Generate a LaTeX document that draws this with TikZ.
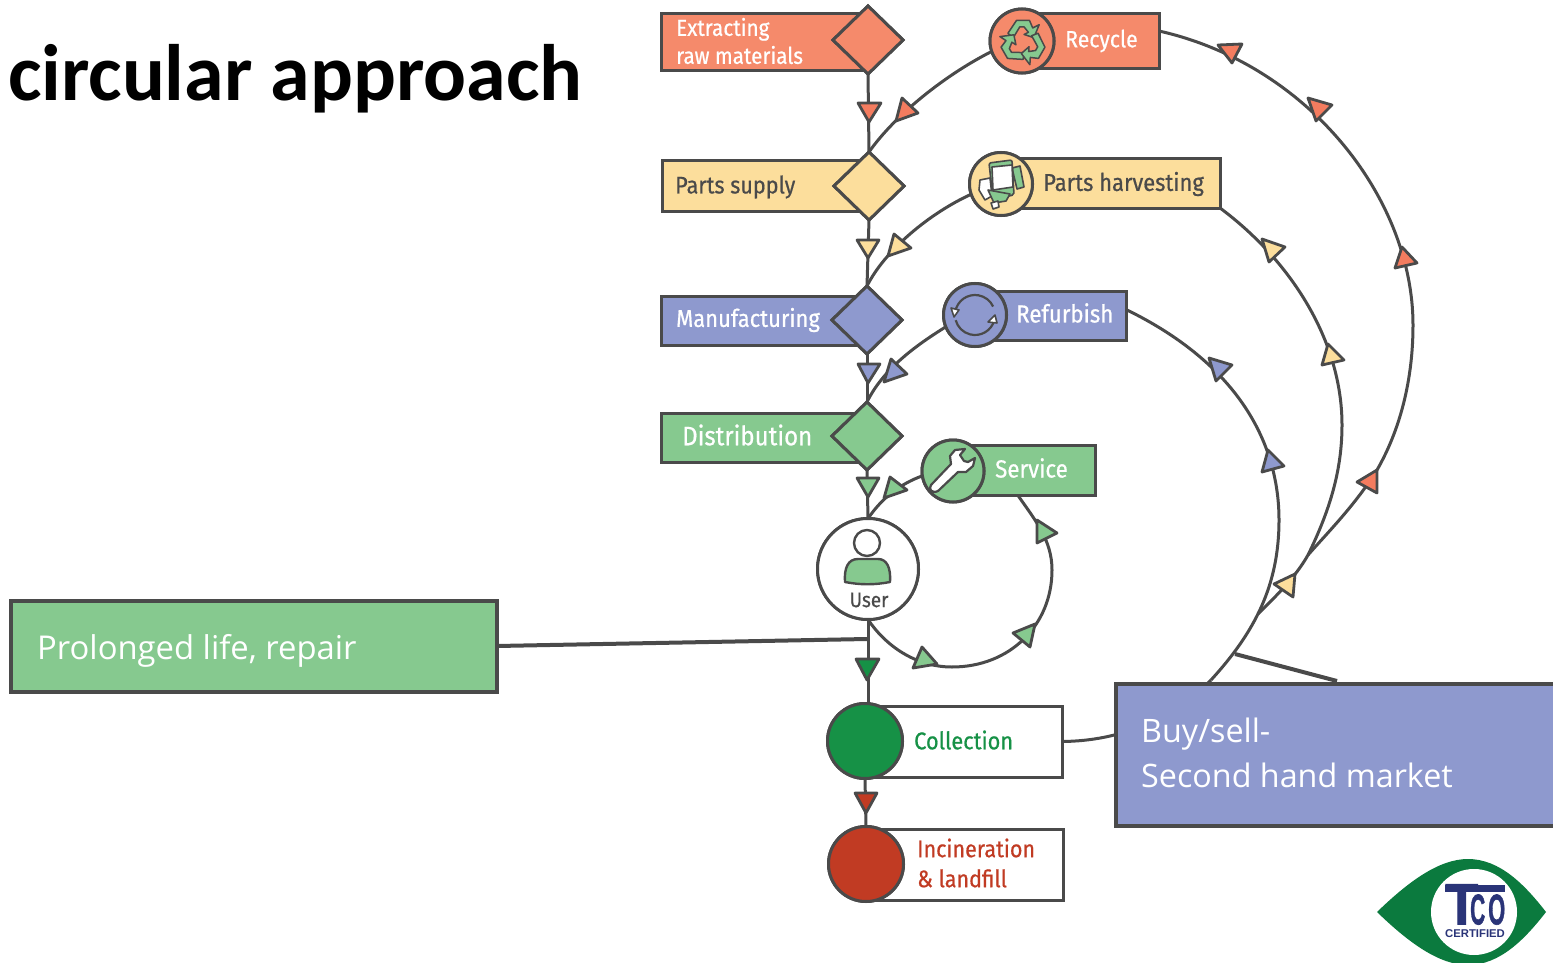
\documentclass[tikz,border=0pt]{standalone}
\usepackage{fontspec}
\usepackage{graphicx}
\usetikzlibrary{shapes.geometric}
\setmainfont{Open Sans}
\newfontfamily\dia[FakeStretch=0.9,FakeBold=0.6]{Fira Sans}
\newfontfamily\ttl{Carlito}
\newfontfamily\lib{Liberation Sans}
\newfontfamily\libb[FakeBold=1.5]{Liberation Sans Bold}
\definecolor{ln}{HTML}{4A4A4A}
\definecolor{cR}{HTML}{F58A6B}
\definecolor{cRt}{HTML}{F47C5F}
\definecolor{cY}{HTML}{FCDE9C}
\definecolor{cB}{HTML}{8E99CE}
\definecolor{cG}{HTML}{86C98F}
\definecolor{cD}{HTML}{169146}
\definecolor{cX}{HTML}{C13B23}
\definecolor{eye}{HTML}{0B7A3E}
\definecolor{navy}{HTML}{2A3478}
\tikzset{
  x=1pt,y=-1pt,
  wire/.style={draw=ln,line width=3pt},
  bx/.style={draw=ln,line width=3pt,rectangle,anchor=north west,outer sep=0pt,inner sep=0pt},
  dm/.style={draw=ln,line width=3pt,diamond,aspect=1,inner sep=0pt,outer sep=0pt,minimum width=70pt,minimum height=68pt},
  cc/.style={draw=ln,line width=3pt,circle,inner sep=0pt,outer sep=0pt},
  lbl/.style={inner sep=0pt,anchor=west,align=left},
  call/.style={draw=ln,line width=4pt,rectangle,anchor=north west,outer sep=0pt,inner sep=0pt},
  ctext/.style={inner sep=0pt,anchor=west,align=left,text=white},
  lead/.style={draw=ln,line width=4pt},
  ico/.style={draw=ln,line width=1.6pt,line join=round}
}
\newcommand{\tri}[4]{\draw[draw=ln,line width=2.8pt,line join=round,fill=#4] (#1) -- (#2) -- (#3) -- cycle;}
\newcommand{\fs}[2]{\dia\fontsize{#1}{#2}\selectfont}
\begin{document}
\begin{tikzpicture}
\useasboundingbox (0,0) rectangle (1553,963);
\clip (0,0) rectangle (1553,963);
\fill[white] (0,0) rectangle (1553,963);

% title
\node[inner sep=0pt,anchor=base west,font=\ttl\bfseries\fontsize{80}{82}\selectfont] (title) at (8,101) {circular approach};

% boxes
\node[bx,fill=cR,minimum width=207pt,minimum height=57pt] (exb) at (661,13.5) {};
\node[bx,fill=cY,minimum width=206pt,minimum height=50pt] (psb) at (662,161) {};
\node[bx,fill=cB,minimum width=207pt,minimum height=49pt] (mfb) at (661,296) {};
\node[bx,fill=cG,minimum width=207pt,minimum height=49pt] (dsb) at (661,413) {};
\node[bx,fill=cR,minimum width=137pt,minimum height=55pt] (rcb) at (1022,13.5) {};
\node[bx,fill=cY,minimum width=219pt,minimum height=49pt] (phb) at (1001,159) {};
\node[bx,fill=cB,minimum width=152pt,minimum height=49pt] (rfb) at (974,291) {};
\node[bx,fill=cG,minimum width=142pt,minimum height=50pt] (svb) at (953,445) {};
\node[bx,fill=white,minimum width=197pt,minimum height=71pt] (clb) at (865,706) {};
\node[bx,fill=white,minimum width=197pt,minimum height=71pt] (inb) at (866,829) {};

% nodes on the spine
\node[dm,fill=cR] (ex) at (868,40) {};
\node[dm,fill=cY] (ps) at (869,186) {};
\node[dm,fill=cB] (mf) at (867,320) {};
\node[dm,fill=cG] (ds) at (867,436) {};
\node[cc,fill=white,minimum size=101pt] (us) at (868,569) {};
\node[cc,fill=cD,minimum size=75pt] (cl) at (865,741) {};
\node[cc,fill=cX,minimum size=75pt] (in) at (866,864) {};
\node[cc,fill=cR,minimum size=64pt] (rc) at (1022,41) {};
\node[cc,fill=cY,minimum size=63pt] (ph) at (1001,184) {};
\node[cc,fill=cB,minimum size=63pt] (rf) at (975,315) {};
\node[cc,fill=cG,minimum size=62pt] (sv) at (953,471) {};

% spine connectors
\draw[wire] (ex.south) -- (ps.north);
\draw[wire] (ps.south) -- (mf.north);
\draw[wire] (mf.south) -- (ds.north);
\draw[wire] (ds.south) -- (us.north);
\draw[wire] (us.south) -- (us.south |- cl.north);
\draw[wire] (cl.south) -- (in.north);

% return connectors
\draw[wire] (rc.199) .. controls (945,75) and (895,115) .. (ps.north);
\draw[wire] (ph.199) .. controls (930,213) and (885,250) .. (mf.north);
\draw[wire] (rf.202) .. controls (925,340) and (885,365) .. (ds.north);
\draw[wire] (sv.189) .. controls (900,484) and (882,498) .. (us.north);

% service loop
\draw[wire] (us.south) .. controls (885,645) and (915,667) .. (952,667)
  .. controls (1010,667) and (1052,625) .. (1052,570)
  .. controls (1052,540) and (1035,520) .. (1018,495.5);

% big return curves
\coordinate (j0) at (1211,680);
\coordinate (j1) at (1258,614);
\coordinate (j2) at (1308,555);
\draw[wire] (clb.east) .. controls (1120,741) and (1170,720) .. (j0);
\draw[wire] (j0) .. controls (1255,632) and (1279,585) .. (1279,520)
  .. controls (1279,445) and (1240,365) .. ([yshift=6pt]rfb.east);
\draw[wire] (j1) .. controls (1275,597) and (1295,578) .. (j2)
  .. controls (1330,510) and (1342,470) .. (1342,425)
  .. controls (1342,340) and (1290,260) .. (phb.south east);
\draw[wire] (j2) .. controls (1330,530) and (1355,505) .. (1377,470)
  .. controls (1400,430) and (1413,380) .. (1413,325)
  .. controls (1413,200) and (1310,65) .. ([yshift=10pt]rcb.east);

% redraw the circles and diamonds above their connectors
\node[dm,fill=cR] at (ex) {};
\node[dm,fill=cY] at (ps) {};
\node[dm,fill=cB] at (mf) {};
\node[dm,fill=cG] at (ds) {};
\node[cc,fill=white,minimum size=101pt] at (us) {};
\node[cc,fill=cD,minimum size=75pt] at (cl) {};
\node[cc,fill=cX,minimum size=75pt] at (in) {};
\node[cc,fill=cR,minimum size=64pt] at (rc) {};
\node[cc,fill=cY,minimum size=63pt] at (ph) {};
\node[cc,fill=cB,minimum size=63pt] at (rf) {};
\node[cc,fill=cG,minimum size=62pt] at (sv) {};

% triangles
\tri{858,103}{881,103}{869,122}{cRt}
\tri{902,98}{918,113}{896,121}{cRt}
\tri{857,240}{879,240}{868,258}{cY}
\tri{894,234}{911,248}{888,256}{cY}
\tri{858,364}{880,364}{868,383}{cB}
\tri{891,359}{907,374}{884,382}{cB}
\tri{857,478}{879,478}{868,497}{cG}
\tri{890,477}{907,490}{884,498}{cG}
\tri{1037,520}{1057,533}{1037,543}{cG}
\tri{1035,624}{1030,647}{1013,633}{cG}
\tri{922,647}{937,664}{913,668}{cG}
\tri{856,659}{879,659}{867,680}{cD}
\tri{855,793}{877,793}{866,813}{cX}
\tri{1268,450}{1284,466}{1262,472}{cB}
\tri{1377,470}{1377,493}{1357,482}{cRt}
\tri{1295,574}{1293,597}{1274,584}{cY}
\tri{1218,45}{1242,44}{1232,63}{cRt}
\tri{1308,98}{1332,105}{1316,121}{cRt}
\tri{1402,247}{1417,263}{1395,268}{cRt}
\tri{1262,239}{1285,247}{1269,262}{cY}
\tri{1328,344}{1344,360}{1322,365}{cY}
\tri{1209,358}{1232,365}{1216,381}{cB}

% labels
\node[lbl,text=white,font=\fs{23}{28}] (exl) at (676,41) {Extracting\\raw materials};
\node[lbl,text=ln,font=\fs{24}{28}] (psl) at (675,187) {Parts supply};
\node[lbl,text=white,font=\fs{24.4}{28}] (mfl) at (676,320) {Manufacturing};
\node[lbl,text=white,font=\fs{26.7}{28}] (dsl) at (682,435) {Distribution};
\node[lbl,text=white,font=\fs{23.6}{28}] (rcl) at (1065,41) {Recycle};
\node[lbl,text=ln,font=\fs{24.4}{28}] (phl) at (1043,184) {Parts harvesting};
\node[lbl,text=white,font=\fs{24.7}{28}] (rfl) at (1016,313) {Refurbish};
\node[lbl,text=white,font=\fs{24.8}{28}] (svl) at (995,468) {Service};
\node[lbl,text=cD,font=\fs{24.2}{28}] (cll) at (914,740) {Collection};
\node[lbl,text=cX,font=\fs{23.9}{30}] (inl) at (917,863) {Incineration\\\& landfill};
\node[lbl,text=ln,anchor=center,font=\fs{21}{24}] (usl) at (869,600) {User};

% user icon
\draw[ico,line width=2.4pt,fill=white] (867,543) circle[radius=13];
\draw[ico,line width=2.4pt,fill=cG] (845,582) .. controls (844,568) and (848,559) .. (858,559) -- (878,559)
  .. controls (887,559) and (891,568) .. (890,582) .. controls (875,585) and (860,585) .. cycle;

% recycle icon
\foreach \r in {0,120,240}{
  \begin{scope}[shift={(1023,42)},rotate=\r,scale=1.08]
    \draw[ico,line width=1.5pt,fill=cG] (-14,-8) -- (-6,-20) -- (6,-20) -- (9,-13) -- (15,-16) -- (10,-4) -- (1,-7) -- (5,-9) -- (1,-14) -- (-3,-14) -- (-9,-4) -- cycle;
  \end{scope}
}

% parts icon
\draw[ico,fill=cG] (1012,168) -- (1020,166) -- (1024,187) -- (1017,189) -- cycle;
\draw[ico,fill=cG,rounded corners=2pt] (989,163) -- (1012,160) -- (1014,195) -- (993,199) -- cycle;
\draw[ico,fill=white] (992,167) -- (1012,165) -- (1013,187) -- (993,190) -- cycle;
\draw[ico,fill=white] (980,180) -- (990,178) -- (992,196) -- (985,200) -- (979,190) -- cycle;
\draw[ico,fill=cG] (988,190) -- (1010,194) -- (1006,201) -- (994,203) -- cycle;
\draw[ico,fill=white] (991,203) -- (998,201) -- (999,207) -- (993,209) -- cycle;

% refurbish icon
\draw[ico,line width=2.2pt] (975,315) ++(190:20) arc[start angle=190,end angle=335,radius=20];
\draw[ico,line width=2.2pt] (975,315) ++(15:20) arc[start angle=15,end angle=165,radius=20];
\draw[ico,fill=white] (951,308) -- (959,310) -- (954,317) -- cycle;
\draw[ico,fill=white] (997,323) -- (988,322) -- (995,315) -- cycle;

% wrench icon
\draw[ico,line width=2.2pt,fill=white] (931,485) -- (951,464) -- (950,456) -- (955,450) -- (965,449) -- (960,455) -- (964,461) -- (968,462) -- (975,458) -- (973,466) -- (966,472) -- (958,472) -- (938,491) .. controls (932,494) and (928,489) .. cycle;

% callouts
\node[call,fill=cB,minimum width=460pt,minimum height=142pt] (buy) at (1116,683.5) {};
\node[ctext,font=\fontsize{32.3}{45}\selectfont] (buyl) at (1141,753) {Buy/sell-\\Second hand market};
\coordinate (buyA) at (1235,654);
\coordinate (buyB) at (1337,681);
\draw[lead] (buyA) -- (buyB);
\node[call,fill=cG,minimum width=486pt,minimum height=91pt] (pro) at (11,601) {};
\node[ctext,font=\fontsize{32.8}{45}\selectfont] (prol) at (37,651) {Prolonged life, repair};
\coordinate (tap) at (867,639);
\draw[lead] (pro.east |- 0,646) -- (tap);

% logo
\fill[eye] (1377,912) .. controls (1410,880) and (1440,859) .. (1468,859)
  .. controls (1500,859) and (1525,885) .. (1546,912)
  .. controls (1525,939) and (1500,965) .. (1468,965)
  .. controls (1440,965) and (1410,944) .. cycle;
\node[circle,fill=white,minimum size=86pt,inner sep=0pt] (logo) at (1474,912) {};
\fill[navy] (1445,885) rectangle (1505,892);
\node[inner sep=0pt,text=navy,anchor=south west] (tco) at (1445,925) {\resizebox{33pt}{40pt}{\libb T}\kern-8pt\resizebox{15pt}{30pt}{\libb C}\kern3pt\resizebox{17pt}{30pt}{\libb O}};
\node[inner sep=0pt,text=navy,font=\lib\bfseries\fontsize{11.3}{12}\selectfont] (cert) at (1475,934) {CERTIFIED};
\end{tikzpicture}
\end{document}
